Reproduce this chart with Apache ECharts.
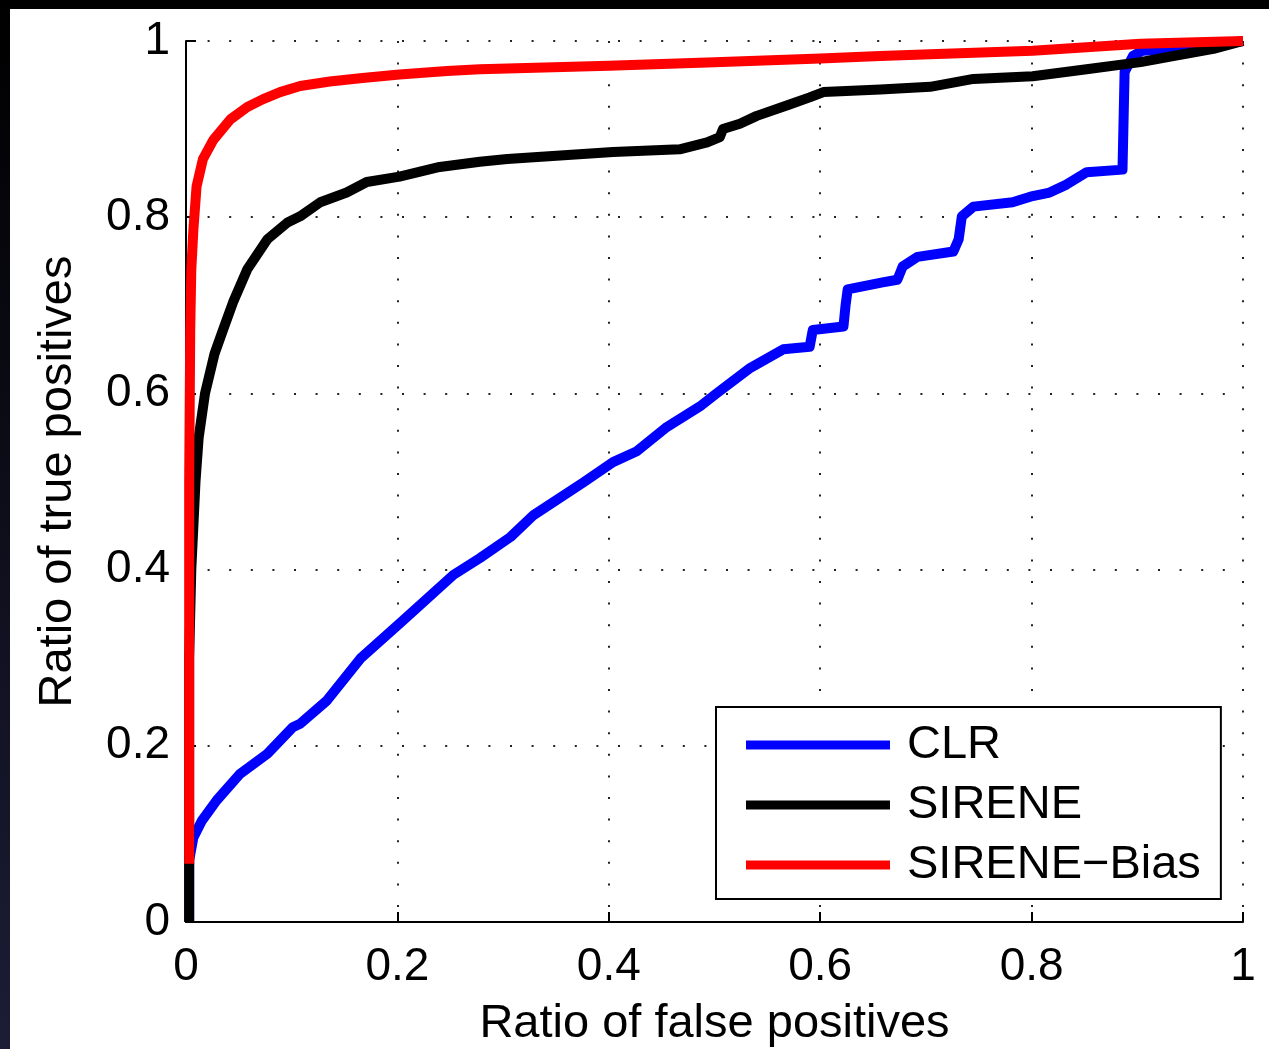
<!DOCTYPE html>
<html>
<head>
<meta charset="utf-8">
<script src="https://cdn.jsdelivr.net/npm/echarts@6/dist/echarts.min.js"></script>
<style>
  html, body { margin: 0; padding: 0; }
  body {
    width: 1269px; height: 1049px; overflow: hidden;
    background: linear-gradient(#000000, #1c1c36);
  }
  #chart {
    position: absolute; left: 10px; top: 9px;
    width: 1259px; height: 1040px; background: #fff;
  }
</style>
</head>
<body>
<div id="chart"></div>
<script>
// 数据: 每条 ROC 曲线的 [假阳性比例, 真阳性比例]
var seriesNames = ['CLR', 'SIRENE', 'SIRENE\u2212Bias'];
var seriesColors = ['#0000ff', '#000000', '#ff0000'];
var tickValues = [0, 0.2, 0.4, 0.6, 0.8, 1];

var clrPoints = [
  [0.003, 0], [0.003, 0.07], [0.007, 0.096], [0.015, 0.115], [0.029, 0.138],
  [0.051, 0.168], [0.077, 0.191], [0.101, 0.221], [0.108, 0.225], [0.133, 0.251],
  [0.165, 0.299], [0.205, 0.342], [0.253, 0.394], [0.278, 0.413], [0.307, 0.437],
  [0.329, 0.462], [0.376, 0.499], [0.404, 0.522], [0.426, 0.534], [0.455, 0.562],
  [0.486, 0.585], [0.502, 0.600], [0.534, 0.629], [0.565, 0.650], [0.590, 0.653],
  [0.593, 0.672], [0.622, 0.676], [0.624, 0.700], [0.626, 0.718], [0.659, 0.726],
  [0.673, 0.729], [0.678, 0.744], [0.692, 0.755], [0.726, 0.761], [0.731, 0.775],
  [0.734, 0.801], [0.745, 0.812], [0.782, 0.817], [0.801, 0.824], [0.817, 0.828],
  [0.833, 0.837], [0.852, 0.851], [0.886, 0.854], [0.888, 0.965], [0.896, 0.983],
  [0.905, 0.989], [0.931, 0.991], [0.985, 0.997], [1, 1]
];
var sirenePoints = [
  [0.003, 0], [0.003, 0.3], [0.005, 0.4], [0.007, 0.45], [0.009, 0.5],
  [0.012, 0.55], [0.018, 0.6], [0.027, 0.645], [0.035, 0.672], [0.045, 0.705],
  [0.058, 0.741], [0.077, 0.775], [0.096, 0.794], [0.108, 0.801], [0.127, 0.817],
  [0.152, 0.828], [0.171, 0.840], [0.202, 0.846], [0.240, 0.857], [0.278, 0.863],
  [0.304, 0.866], [0.404, 0.874], [0.467, 0.877], [0.493, 0.885], [0.505, 0.891],
  [0.508, 0.900], [0.524, 0.906], [0.540, 0.915], [0.571, 0.928], [0.590, 0.936],
  [0.603, 0.942], [0.657, 0.945], [0.704, 0.948], [0.745, 0.957], [0.801, 0.960],
  [0.852, 0.968], [0.903, 0.976], [0.934, 0.983], [0.972, 0.991], [1, 1]
];
var biasPoints = [
  [0.003, 0.066], [0.003, 0.5], [0.004, 0.672], [0.005, 0.74], [0.007, 0.786],
  [0.010, 0.835], [0.016, 0.866], [0.026, 0.888], [0.042, 0.911], [0.058, 0.925],
  [0.073, 0.934], [0.089, 0.942], [0.108, 0.949], [0.136, 0.954], [0.167, 0.958],
  [0.202, 0.962], [0.247, 0.966], [0.278, 0.968], [0.4, 0.972], [0.5, 0.976],
  [0.6, 0.980], [0.657, 0.983], [0.704, 0.985], [0.801, 0.989], [0.852, 0.993],
  [0.903, 0.997], [1, 1]
];
var allPoints = [clrPoints, sirenePoints, biasPoints];

(function () {
  var myChart = echarts.init(document.getElementById('chart'));
  var font = '"Liberation Sans", Arial, Helvetica, sans-serif';

  // 坐标轴公共样式
  function makeAxis(name, gap, labelMargin) {
    return {
      type: 'value',
      min: 0,
      max: 1,
      interval: 0.2,
      name: name,
      nameLocation: 'middle',
      nameGap: gap,
      nameTextStyle: { color: '#000', fontSize: 47, fontFamily: font },
      axisLine: { show: true, onZero: false, lineStyle: { color: '#000', width: 2 } },
      axisTick: { show: true, inside: true, length: 10, lineStyle: { color: '#000', width: 2 } },
      axisLabel: {
        color: '#000', fontSize: 46, fontFamily: font, margin: labelMargin,
        formatter: function (v) { return tickValues.indexOf(v) >= 0 ? String(v) : ''; }
      },
      // 点状网格线
      splitLine: {
        show: true,
        lineStyle: { color: '#222', width: 2, type: [2, 19.6] }
      }
    };
  }

  var series = seriesNames.map(function (n, i) {
    return {
      name: n,
      type: 'line',
      data: allPoints[i],
      showSymbol: false,
      symbol: 'none',
      clip: false,
      lineStyle: { color: seriesColors[i], width: 10, join: 'round', cap: 'butt' },
      itemStyle: { color: seriesColors[i] },
      z: 3 + i
    };
  });

  var option = {
    animation: false,
    backgroundColor: '#fff',
    // 固定绘图区, 不让文字挤压网格
    grid: { left: 176, top: 32, right: 26, bottom: 127, containLabel: false, outerBoundsMode: 'none' },
    legend: {
      orient: 'vertical',
      left: 706,
      top: 698,
      data: seriesNames,
      icon: 'rect',
      itemWidth: 144,
      itemHeight: 9,
      itemGap: 10,
      padding: [13, 20, 9, 30],
      borderColor: '#000',
      borderWidth: 2,
      backgroundColor: '#fff',
      textStyle: { color: '#000', fontSize: 47, fontFamily: font, lineHeight: 50, padding: [0, 0, 0, 12] }
    },
    xAxis: makeAxis('Ratio of false positives', 79, 22),
    yAxis: makeAxis('Ratio of true positives', 104, 16),
    series: series
  };
  myChart.setOption(option);
})();
</script>
</body>
</html>
